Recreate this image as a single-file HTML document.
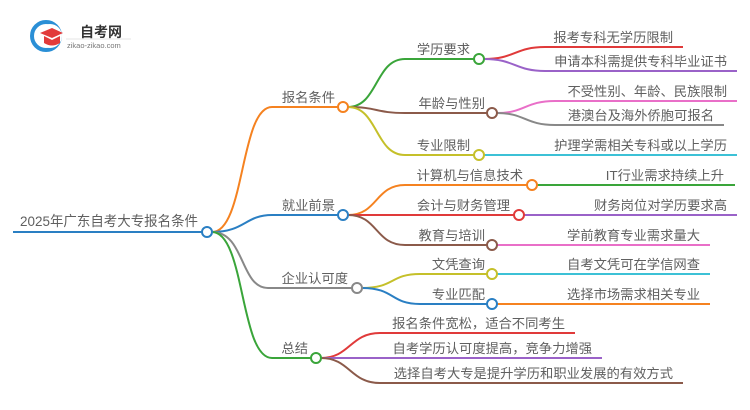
<!DOCTYPE html>
<html><head><meta charset="utf-8"><style>
html,body{margin:0;padding:0;background:#fff;}
svg{display:block;}
text{font-family:"Liberation Sans","Noto Sans CJK SC",sans-serif;fill:#606060;font-size:13.3px;}
</style></head><body>
<svg width="750" height="410" viewBox="0 0 750 410" xmlns="http://www.w3.org/2000/svg">
<circle cx="46" cy="36" r="14" fill="none" stroke="#2a8fd6" stroke-width="4"/>
<circle cx="50" cy="36" r="12" fill="#fff"/>
<path d="M40 33 L52 28 L63 33 L52 38 Z" fill="#e23b3b"/>
<path d="M44 36 L44 43 Q52 48 60 43 L60 36 L52 40 Z" fill="#e23b3b"/>
<text x="80" y="37" style="font-size:14px;font-weight:bold;fill:#333">自考网</text>
<line x1="66" y1="39" x2="131" y2="39" stroke="#ddd" stroke-width="0.7"/>
<text x="67" y="48" style="font-size:7.5px;fill:#777">zikao-zikao.com</text>

<g fill="none" stroke-width="2">
<line x1="13" y1="232" x2="202" y2="232" stroke="#2a7fc3"/>
<path d="M212 232 C245 232 240 107 272 107 L338 107" stroke="#f58220"/>
<path d="M212 232 C245 232 245 215 272 215 L338 215" stroke="#2a7fc3"/>
<path d="M212 232 C245 232 240 288 268 288 L352 288" stroke="#888"/>
<path d="M212 232 C245 232 240 358 272 358 L311 358" stroke="#3aa53a"/>
<path d="M348 107 C378 107 375 59 405 59 L474 59" stroke="#3aa53a"/>
<path d="M348 107 C378 107 375 113 405 113 L487 113" stroke="#8b5a4a"/>
<path d="M348 107 C378 107 375 155 405 155 L474 155" stroke="#c5c02a"/>
<path d="M484 59 C515 59 515 47 545 47 L683 47" stroke="#e03a3a"/>
<path d="M484 59 C515 59 515 71 545 71 L737 71" stroke="#9a62c8"/>
<path d="M497 113 C525 113 525 101 555 101 L737 101" stroke="#e96fc8"/>
<path d="M497 113 C525 113 525 125 555 125 L724 125" stroke="#888"/>
<line x1="484" y1="155" x2="737" y2="155" stroke="#3cc1d6"/>
<path d="M348 215 C378 215 375 185 405 185 L527 185" stroke="#f58220"/>
<line x1="348" y1="215" x2="514" y2="215" stroke="#e03a3a"/>
<path d="M348 215 C378 215 375 245 405 245 L487 245" stroke="#8b5a4a"/>
<line x1="537" y1="185" x2="735" y2="185" stroke="#3aa53a"/>
<line x1="524" y1="215" x2="737" y2="215" stroke="#9a62c8"/>
<line x1="497" y1="245" x2="710" y2="245" stroke="#e96fc8"/>
<path d="M362 288 C395 288 390 274 420 274 L487 274" stroke="#c5c02a"/>
<path d="M362 288 C395 288 390 304 420 304 L487 304" stroke="#2a7fc3"/>
<line x1="497" y1="274" x2="710" y2="274" stroke="#3cc1d6"/>
<line x1="497" y1="304" x2="710" y2="304" stroke="#f58220"/>
<path d="M321 358 C350 358 350 333 380 333 L575 333" stroke="#e03a3a"/>
<line x1="321" y1="358" x2="602" y2="358" stroke="#9a62c8"/>
<path d="M321 358 C350 358 350 383 380 383 L683 383" stroke="#8b5a4a"/>
</g>
<g fill="#fff" stroke-width="2">
<circle cx="207" cy="232" r="5" stroke="#2a7fc3"/>
<circle cx="343" cy="107" r="5" stroke="#f58220"/>
<circle cx="343" cy="215" r="5" stroke="#2a7fc3"/>
<circle cx="357" cy="288" r="5" stroke="#888"/>
<circle cx="316" cy="358" r="5" stroke="#3aa53a"/>
<circle cx="479" cy="59" r="5" stroke="#3aa53a"/>
<circle cx="492" cy="113" r="5" stroke="#8b5a4a"/>
<circle cx="479" cy="155" r="5" stroke="#c5c02a"/>
<circle cx="532" cy="185" r="5" stroke="#f58220"/>
<circle cx="519" cy="215" r="5" stroke="#e03a3a"/>
<circle cx="492" cy="245" r="5" stroke="#8b5a4a"/>
<circle cx="492" cy="274" r="5" stroke="#c5c02a"/>
<circle cx="492" cy="304" r="5" stroke="#2a7fc3"/>
</g>
<text x="20" y="226" textLength="178" lengthAdjust="spacingAndGlyphs" style="font-size:14px">2025年广东自考大专报名条件</text>
<text x="335" y="102" text-anchor="end">报名条件</text>
<text x="335" y="210" text-anchor="end">就业前景</text>
<text x="348" y="283" text-anchor="end">企业认可度</text>
<text x="308" y="353" text-anchor="end">总结</text>
<text x="470" y="54" text-anchor="end">学历要求</text>
<text x="485" y="108" text-anchor="end">年龄与性别</text>
<text x="470" y="150" text-anchor="end">专业限制</text>
<text x="523" y="180" text-anchor="end">计算机与信息技术</text>
<text x="510" y="210" text-anchor="end">会计与财务管理</text>
<text x="485" y="240" text-anchor="end">教育与培训</text>
<text x="485" y="269" text-anchor="end">文凭查询</text>
<text x="485" y="299" text-anchor="end">专业匹配</text>
<text x="673" y="42" text-anchor="end">报考专科无学历限制</text>
<text x="727" y="66" text-anchor="end">申请本科需提供专科毕业证书</text>
<text x="727" y="96" text-anchor="end">不受性别、年龄、民族限制</text>
<text x="714" y="120" text-anchor="end">港澳台及海外侨胞可报名</text>
<text x="727" y="150" text-anchor="end">护理学需相关专科或以上学历</text>
<text x="724" y="180" text-anchor="end">IT行业需求持续上升</text>
<text x="727" y="210" text-anchor="end">财务岗位对学历要求高</text>
<text x="700" y="240" text-anchor="end">学前教育专业需求量大</text>
<text x="700" y="269" text-anchor="end">自考文凭可在学信网查</text>
<text x="700" y="299" text-anchor="end">选择市场需求相关专业</text>
<text x="565" y="328" text-anchor="end">报名条件宽松，适合不同考生</text>
<text x="592" y="353" text-anchor="end">自考学历认可度提高，竞争力增强</text>
<text x="673" y="378" text-anchor="end">选择自考大专是提升学历和职业发展的有效方式</text>
</svg>
</body></html>
